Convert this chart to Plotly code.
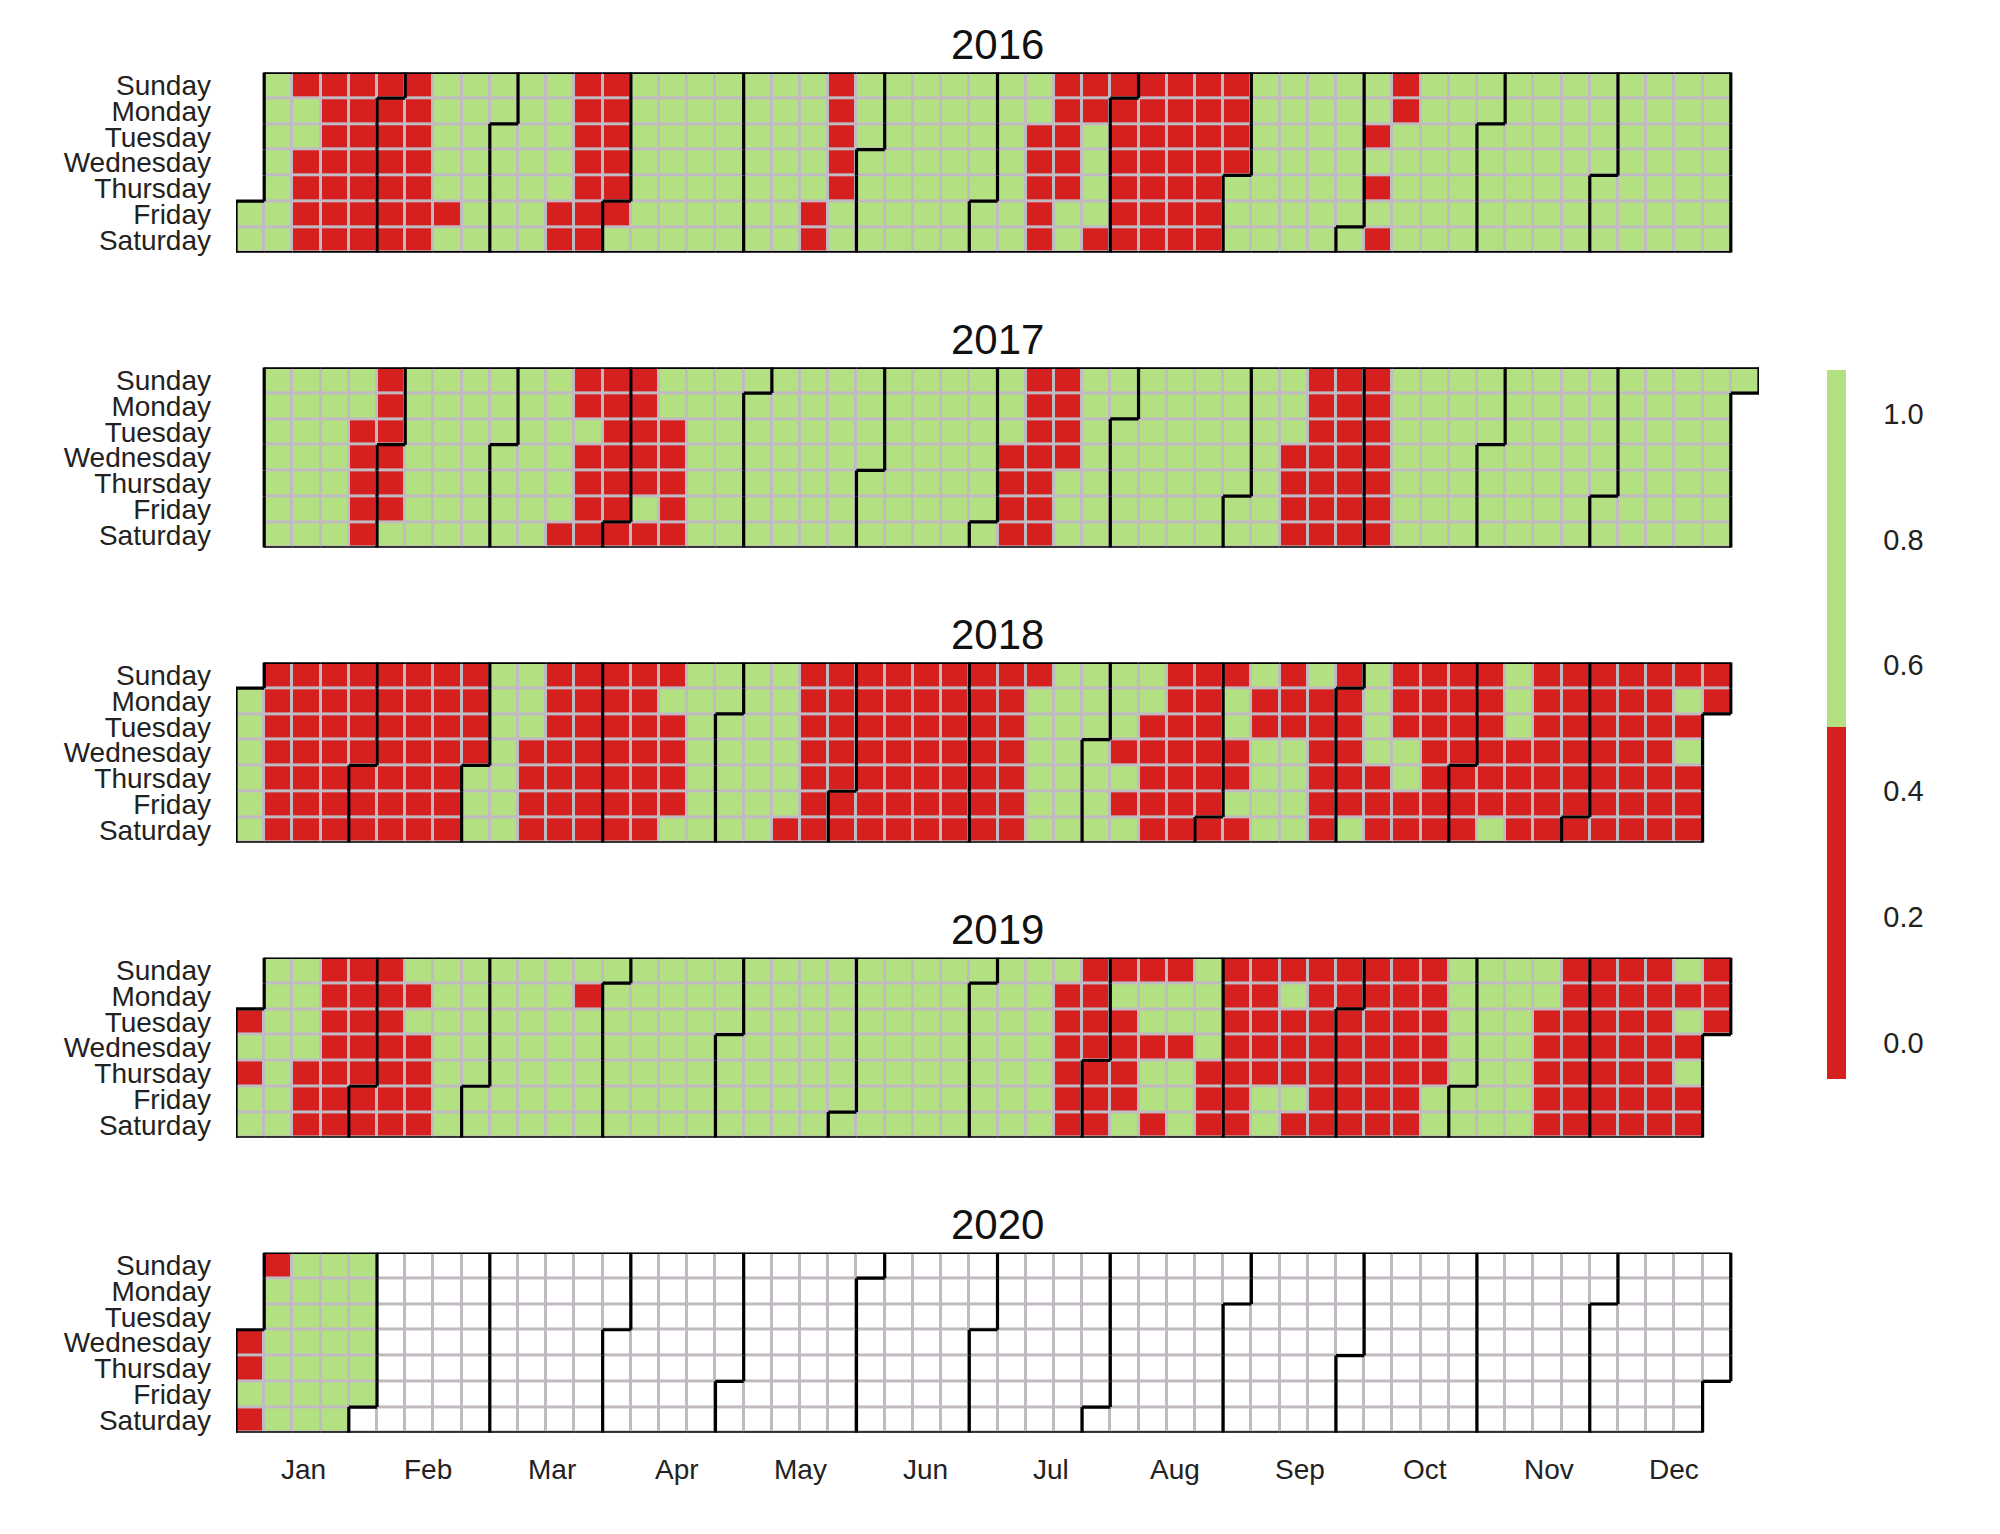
import datetime as dt
import numpy as np
import plotly.graph_objects as go

# red cells (value 0) per weekday row (Sunday..Saturday), listed by week column
RED_2016 = [
    [2, 3, 4, 5, 6, 12, 13, 21, 29, 30, 31, 32, 33, 34, 35, 41],
    [3, 4, 5, 6, 12, 13, 21, 29, 30, 31, 32, 33, 34, 35, 41],
    [3, 4, 5, 6, 12, 13, 21, 28, 29, 31, 32, 33, 34, 35, 40],
    [2, 3, 4, 5, 6, 12, 13, 21, 28, 29, 31, 32, 33, 34, 35],
    [2, 3, 4, 5, 6, 12, 13, 21, 28, 29, 31, 32, 33, 34, 40],
    [2, 3, 4, 5, 6, 7, 11, 12, 13, 20, 28, 31, 32, 33, 34],
    [2, 3, 4, 5, 6, 11, 12, 20, 28, 30, 31, 32, 33, 34, 40],
]
RED_2017 = [
    [5, 12, 13, 14, 28, 29, 38, 39, 40],
    [5, 12, 13, 14, 28, 29, 38, 39, 40],
    [4, 5, 13, 14, 15, 28, 29, 38, 39, 40],
    [4, 5, 12, 13, 14, 15, 27, 28, 29, 37, 38, 39, 40],
    [4, 5, 12, 13, 14, 15, 27, 28, 37, 38, 39, 40],
    [4, 5, 12, 13, 15, 27, 28, 37, 38, 39, 40],
    [4, 11, 12, 13, 14, 15, 27, 28, 37, 38, 39, 40],
]
# 2018 is mostly red, so the green cells (value 1) are listed instead
GREEN_2018 = [
    [9, 10, 16, 17, 18, 19, 29, 30, 31, 32, 36, 38, 40, 45],
    [0, 9, 10, 15, 16, 17, 18, 19, 28, 29, 30, 31, 32, 35, 40, 45, 51],
    [0, 9, 10, 16, 17, 18, 19, 28, 29, 30, 31, 35, 40, 45],
    [0, 9, 16, 17, 18, 19, 28, 29, 30, 36, 37, 40, 41, 51],
    [0, 8, 9, 16, 17, 18, 19, 28, 29, 30, 31, 36, 37, 41],
    [0, 8, 9, 16, 17, 18, 19, 28, 29, 30, 35, 36, 37],
    [0, 8, 9, 15, 16, 17, 18, 28, 29, 30, 31, 36, 37, 39, 44],
]
RED_2019 = [
    [3, 4, 5, 30, 31, 32, 33, 35, 36, 37, 38, 39, 40, 41, 42, 47, 48, 49, 50, 52],
    [3, 4, 5, 6, 12, 29, 30, 35, 36, 38, 39, 40, 41, 42, 47, 48, 49, 50, 51, 52],
    [0, 3, 4, 5, 29, 30, 31, 35, 36, 37, 38, 39, 40, 41, 42, 46, 47, 48, 49, 50, 52],
    [3, 4, 5, 6, 29, 30, 31, 32, 33, 35, 36, 37, 38, 39, 40, 41, 42, 46, 47, 48, 49, 50, 51],
    [0, 2, 3, 4, 5, 6, 29, 30, 31, 34, 35, 36, 37, 38, 39, 40, 41, 42, 46, 47, 48, 49, 50],
    [2, 3, 4, 5, 6, 29, 30, 31, 34, 35, 38, 39, 40, 41, 46, 47, 48, 49, 50, 51],
    [2, 3, 4, 5, 6, 29, 30, 32, 34, 35, 37, 38, 39, 40, 41, 46, 47, 48, 49, 50, 51],
]
RED_2020 = [[1], [], [], [0], [0], [], [0]]
DATA_END = dt.date(2020, 1, 31)

YEARS = [2016, 2017, 2018, 2019, 2020]
DAY_LABELS = ["Sunday", "Monday", "Tuesday", "Wednesday", "Thursday", "Friday", "Saturday"]
MONTH_LABELS = ["Jan", "Feb", "Mar", "Apr", "May", "Jun", "Jul", "Aug", "Sep", "Oct", "Nov", "Dec"]
# week column under which each month label sits
MONTH_TICK_COLS = [1.9, 6.29, 10.72, 15.15, 19.53, 23.96, 28.4, 32.79, 37.22, 41.65, 46.04, 50.47]

RED = "#d61f1f"
GREEN = "#b3e080"
GRID = "#c2bac2"
FONT = "Liberation Sans"

W, H = 2000, 1534
X0, X1 = 228, 1751           # pixel span of week columns -0.5 .. 53.5
TOPS = [62.5 + 296 * k for k in range(5)]
ROW_H = 181


def cell(d):
    jan1 = dt.date(d.year, 1, 1)
    col = (d.timetuple().tm_yday + jan1.weekday()) // 7
    row = (d.weekday() + 1) % 7
    return row, col


def year_grids(year):
    val = np.full((7, 54), np.nan)
    month = np.zeros((7, 54), dtype=int)
    future = np.full((7, 54), np.nan)
    d = dt.date(year, 1, 1)
    while d.year == year:
        r, c = cell(d)
        month[r, c] = d.month
        if d > DATA_END:
            future[r, c] = 1
        elif year == 2018:
            val[r, c] = 1 if c in GREEN_2018[r] else 0
        else:
            reds = {2016: RED_2016, 2017: RED_2017, 2019: RED_2019, 2020: RED_2020}[year]
            val[r, c] = 0 if c in reds[r] else 1
        d += dt.timedelta(days=1)
    return val, month, future


def boundary(month):
    pad = np.zeros((9, 56), dtype=int)
    pad[1:8, 1:55] = month
    xs, ys = [], []
    for r in range(8):
        for c in range(55):
            m = pad[r, c]
            x, y = c - 1, r - 1
            right, below = pad[r, c + 1], pad[r + 1, c]
            if m != right and (m or right):
                xs += [x + 0.5, x + 0.5, None]
                ys += [y - 0.5, y + 0.5, None]
            if m != below and (m or below):
                xs += [x - 0.5, x + 0.5, None]
                ys += [y + 0.5, y + 0.5, None]
    return xs, ys


fig = go.Figure()
layout = {}
annotations = []
cols = list(range(54))
rows = list(range(7))

for i, year in enumerate(YEARS):
    n = "" if i == 0 else str(i + 1)
    xa, ya = "x" + n, "y" + n
    val, month, future = year_grids(year)
    base = np.where(month > 0, 1.0, np.nan)

    fig.add_trace(go.Heatmap(z=base, x=cols, y=rows, xaxis=xa, yaxis=ya,
                             colorscale=[[0, GRID], [1, GRID]], showscale=False, hoverinfo="skip"))
    fig.add_trace(go.Heatmap(z=future, x=cols, y=rows, xaxis=xa, yaxis=ya, xgap=3, ygap=3,
                             colorscale=[[0, "white"], [1, "white"]], showscale=False, hoverinfo="skip"))
    fig.add_trace(go.Heatmap(
        z=val, x=cols, y=rows, xaxis=xa, yaxis=ya, xgap=3, ygap=3,
        zmin=-0.058, zmax=1.07,
        colorscale=[[0, RED], [0.4965, RED], [0.4965, GREEN], [1, GREEN]],
        showscale=(i == 0),
        colorbar=dict(x=1819 / W, xanchor="left", xpad=0, thickness=19, len=711 / H,
                      y=1 - 361 / H, yanchor="top", ypad=0, outlinewidth=0,
                      tickvals=[0, 0.2, 0.4, 0.6, 0.8, 1.0], ticktext=["0.0", "0.2", "0.4", "0.6", "0.8", "1.0"],
                      ticks="outside", ticklen=32, tickcolor="white",
                      tickfont=dict(family=FONT, size=29, color="#222")),
    ))
    bx, by = boundary(month)
    fig.add_trace(go.Scatter(x=bx, y=by, xaxis=xa, yaxis=ya, mode="lines",
                             line=dict(color="black", width=3.2), hoverinfo="skip", showlegend=False))

    top = TOPS[i]
    layout["xaxis" + n] = dict(domain=[X0 / W, X1 / W], range=[-0.5, 53.5], visible=False, anchor=ya)
    layout["yaxis" + n] = dict(domain=[1 - (top + ROW_H) / H, 1 - top / H], range=[6.5, -0.5],
                               anchor=xa, tickvals=rows, ticktext=DAY_LABELS, showgrid=False,
                               zeroline=False, showline=False, ticks="", ticklabelstandoff=24,
                               tickfont=dict(family=FONT, size=28, color="#222"))
    annotations.append(dict(text=str(year), x=26.5, xref=xa, y=1 - (top - 28) / H, yref="paper",
                            showarrow=False, yanchor="middle",
                            font=dict(family=FONT, size=42, color="#111")))

# month labels under the last year
for label, c in zip(MONTH_LABELS, MONTH_TICK_COLS):
    annotations.append(dict(text=label, x=c, xref="x5",
                            y=1 - 1464 / H, yref="paper", showarrow=False, yanchor="middle",
                            font=dict(family=FONT, size=28, color="#222")))

fig.update_layout(width=W, height=H, margin=dict(l=0, r=0, t=0, b=0),
                  plot_bgcolor="white", paper_bgcolor="white", showlegend=False,
                  annotations=annotations, **layout)

fig.write_html("out.html")
